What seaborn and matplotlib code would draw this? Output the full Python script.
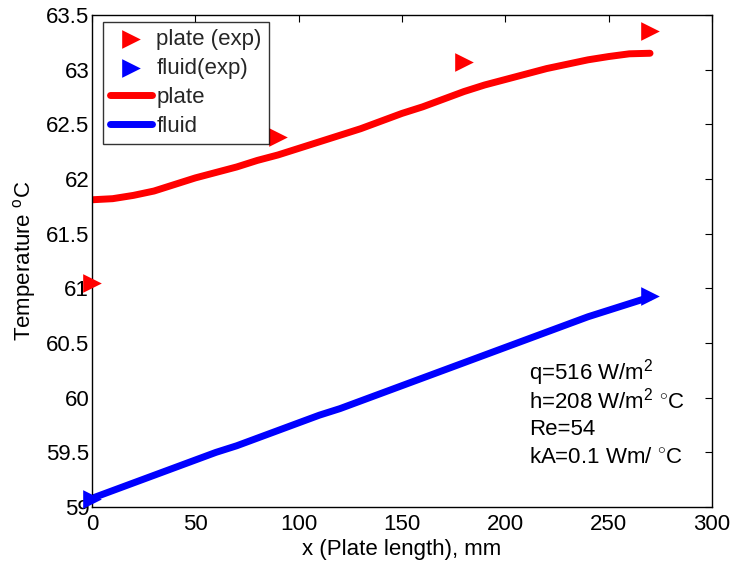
import matplotlib
matplotlib.use("Agg")
import matplotlib.pyplot as plt
import seaborn as sns
import numpy as np
import pandas as pd

# ---- data ----
x_exp = [0, 90, 180, 270]
plate_exp = [61.05, 62.38, 63.07, 63.35]
fluid_exp_x = [0, 270]
fluid_exp = [59.07, 60.93]

x_model = [0, 10, 20, 30, 40, 50, 60, 70, 80, 90, 100, 110, 120, 130, 140,
           150, 160, 170, 180, 190, 200, 210, 220, 230, 240, 250, 260, 270]
plate_model = [61.81, 61.82, 61.85, 61.89, 61.95, 62.01, 62.06, 62.11, 62.17,
               62.22, 62.28, 62.34, 62.40, 62.46, 62.53, 62.60, 62.66, 62.73,
               62.80, 62.86, 62.91, 62.96, 63.01, 63.05, 63.09, 63.12, 63.145,
               63.15]
fluid_model = [59.08, 59.15, 59.22, 59.29, 59.36, 59.43, 59.50, 59.56, 59.63,
               59.70, 59.77, 59.84, 59.90, 59.97, 60.04, 60.11, 60.18, 60.25,
               60.32, 60.39, 60.46, 60.53, 60.60, 60.67, 60.74, 60.80, 60.86,
               60.92]

x_ticks = [0, 50, 100, 150, 200, 250, 300]
y_ticks = [59, 59.5, 60, 60.5, 61, 61.5, 62, 62.5, 63, 63.5]
y_tick_labels = ["59", "59.5", "60", "60.5", "61", "61.5", "62", "62.5", "63", "63.5"]

annot_lines = [r"q=516 W/m$^2$",
               r"h=208 W/m$^2$ $^{\circ}$C",
               "Re=54",
               r"kA=0.1 Wm/ $^{\circ}$C"]

# ---- style ----
FS = 16
sns.set_theme(style="white")
plt.rcParams['font.family'] = ['Liberation Sans', 'DejaVu Sans']
plt.rcParams['mathtext.fontset'] = 'custom'
plt.rcParams['mathtext.rm'] = 'Liberation Sans'
plt.rcParams['mathtext.it'] = 'Liberation Sans:italic'
plt.rcParams['mathtext.bf'] = 'Liberation Sans:bold'
plt.rcParams['font.size'] = FS

fig = plt.figure(figsize=(7.39, 5.70), dpi=100)
fig.patch.set_facecolor('white')
ax = fig.add_axes([0.1245, 0.1105, 0.839, 0.8632])

sns.scatterplot(x=x_exp, y=plate_exp, marker='>', s=180, color='#ff0000',
                linewidth=0, ax=ax, label='plate (exp)', zorder=3, clip_on=False)
sns.scatterplot(x=fluid_exp_x, y=fluid_exp, marker='>', s=180, color='#0000ff',
                linewidth=0, ax=ax, label='fluid(exp)', zorder=3, clip_on=False)
sns.lineplot(x=x_model, y=plate_model, color='#ff0000', linewidth=5,
             ax=ax, label='plate', zorder=2)
sns.lineplot(x=x_model, y=fluid_model, color='#0000ff', linewidth=5,
             ax=ax, label='fluid', zorder=2)

ax.set_xlim(0, 300)
ax.set_ylim(59, 63.5)
ax.set_xticks(x_ticks)
ax.set_xticklabels([str(t) for t in x_ticks], fontsize=FS)
ax.set_yticks(y_ticks)
ax.set_yticklabels(y_tick_labels, fontsize=FS)
ax.tick_params(direction='in', top=True, right=True, length=5, width=0.8,
               color='black', labelcolor='black')
ax.tick_params(axis='y', pad=2)
ax.tick_params(axis='x', pad=5)
for sp in ax.spines.values():
    sp.set_color('black')
    sp.set_linewidth(1.0)
    sp.set_visible(True)

ax.set_xlabel("x (Plate length), mm", fontsize=FS, color='black', labelpad=3)
ax.set_ylabel(r"Temperature $^{\rm o}$C", fontsize=FS, color='black', labelpad=6)

leg = ax.legend(loc='upper left', fontsize=FS, frameon=True, fancybox=False,
                edgecolor='black', handlelength=1.9, handletextpad=0.2,
                borderpad=0.3, labelspacing=0.36, borderaxespad=0,
                bbox_to_anchor=(0.018, 0.985))
leg.get_frame().set_linewidth(1.0)

for i, t in enumerate(annot_lines):
    ax.text(0.705, 0.274 - i * 0.058, t, transform=ax.transAxes, fontsize=FS,
            color='black', va='center', ha='left')

fig.savefig("out.png", dpi=100, facecolor='white')
